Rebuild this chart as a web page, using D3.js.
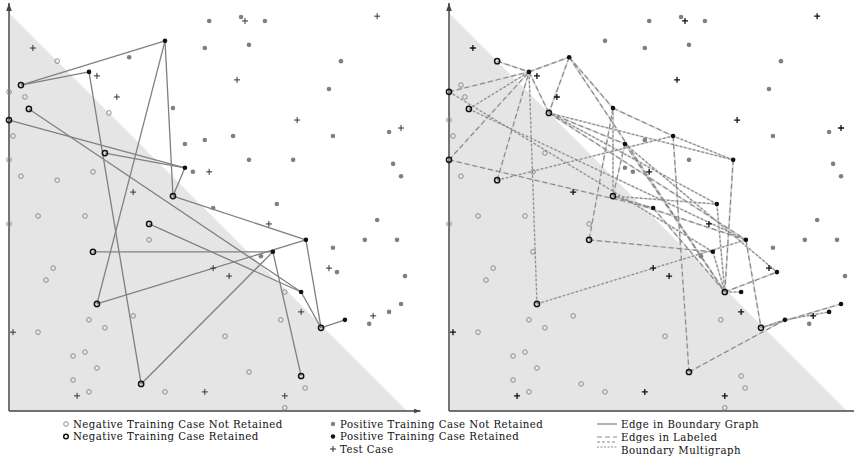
<!DOCTYPE html>
<html>
<head>
<meta charset="utf-8">
<script src="https://cdn.jsdelivr.net/npm/d3@7"></script>
<style>
  body { margin: 0; background: #fff; }
  svg { display: block; }
  .legend text { font-family: "DejaVu Serif", serif; font-size: 10.2px; letter-spacing: 0.45px; fill: #111; }
</style>
</head>
<body>
<div id="container"></div>
<script>
/* CONSTANTS AND GLOBALS */
const width = 854, height = 464;

/* DATA (units 0-100 on both axes, class boundary is x + y = 100) */
const negatives = [
  ["n1", 12.1, 87.9], ["n2", 3.0, 81.9], ["n3", 0, 80.2], ["n4", 4.0, 78.9],
  ["n5", 5.0, 75.9], ["n6", 25.1, 74.9], ["n7", 0, 73.1], ["n8", 1.0, 69.1],
  ["n9", 24.1, 64.8], ["n10", 0, 63.1], ["n11", 3.0, 59.0], ["n12", 12.1, 58.0],
  ["n13", 21.1, 60.1], ["n14", 41.2, 54.0], ["n15", 7.3, 49.0], ["n16", 19.1, 49.0],
  ["n17", 0, 47.0], ["n18", 35.2, 47.0], ["n19", 35.2, 43.0], ["n20", 21.1, 40.0],
  ["n21", 11.1, 35.9], ["n22", 9.3, 32.9], ["n23", 22.1, 26.9], ["n24", 31.2, 23.9],
  ["n25", 20.1, 22.9], ["n26", 24.1, 20.9], ["n27", 7.3, 19.8], ["n28", 16.1, 13.8],
  ["n29", 19.1, 14.8], ["n30", 22.1, 10.8], ["n31", 16.1, 7.8], ["n32", 33.2, 6.8],
  ["n33", 20.1, 4.8], ["n34", 39.2, 4.8], ["n35", 69.3, 29.9], ["n36", 68.3, 22.9],
  ["n37", 78.4, 20.9], ["n38", 54.3, 18.8], ["n39", 60.3, 9.8], ["n40", 73.4, 8.8],
  ["n41", 74.4, 5.8], ["n42", 69.3, 0.8]
];

const positives = [
  ["p1", 30.2, 88.9], ["p2", 39.2, 93.0], ["p3", 50.3, 98.0], ["p4", 58.3, 99.0],
  ["p5", 64.3, 98.0], ["p6", 49.2, 91.2], ["p7", 60.3, 92.0], ["p8", 83.4, 87.9],
  ["p9", 80.4, 80.9], ["p10", 20.1, 85.2], ["p11", 41.2, 76.1], ["p12", 44.2, 67.1],
  ["p13", 49.2, 68.1], ["p14", 56.3, 69.1], ["p15", 81.4, 69.1], ["p16", 95.5, 70.1],
  ["p17", 60.3, 63.1], ["p18", 71.4, 63.1], ["p19", 96.5, 62.1], ["p20", 98.5, 59.0],
  ["p21", 44.2, 61.1], ["p22", 46.2, 60.1], ["p23", 51.3, 51.0], ["p24", 67.3, 52.0],
  ["p25", 92.5, 48.0], ["p26", 74.6, 43.0], ["p27", 89.4, 43.0], ["p28", 97.5, 43.0],
  ["p29", 81.4, 41.0], ["p30", 66.3, 40.0], ["p31", 63.3, 38.9], ["p32", 82.4, 34.9],
  ["p33", 99.5, 33.9], ["p34", 73.4, 29.9], ["p35", 98.5, 26.9], ["p36", 95.5, 24.9],
  ["p37", 84.4, 22.9], ["p38", 90.5, 21.9]
];

const tests = [
  [6.0, 91.2], [22.1, 84.2], [27.1, 78.9], [59.3, 98.0], [92.5, 99.2],
  [57.3, 83.2], [72.4, 73.1], [98.5, 71.1], [50.3, 60.1], [31.2, 55.0],
  [65.3, 47.0], [51.3, 35.9], [55.3, 33.9], [80.4, 35.9], [73.4, 24.9],
  [91.5, 23.9], [1.0, 19.8], [17.1, 3.8], [49.2, 4.8], [69.3, 3.8]
];

// left panel: boundary graph
const retainedLeft = ["n2", "n5", "n7", "n9", "n14", "n18", "n20", "n23", "n32", "n37", "n40",
  "p2", "p10", "p21", "p26", "p30", "p34", "p37"];
const edgesLeft = [
  ["n2", "p2"], ["n2", "p10"], ["p2", "n14"], ["p2", "n23"], ["p10", "n32"],
  ["n7", "p21"], ["n9", "p21"], ["p21", "n14"], ["n14", "p26"], ["n5", "p34"],
  ["n18", "p34"], ["n20", "p30"], ["n23", "p26"], ["n32", "p30"], ["p30", "n40"],
  ["p26", "n37"], ["p34", "n37"], ["n37", "p37"]
];

// right panel: labeled boundary multigraph (L = long dash, S = short dash)
const retainedRight = ["n1", "n3", "n5", "n6", "n10", "n12", "n14", "n19", "n23", "n35", "n37", "n39",
  "p1", "p10", "p11", "p12", "p14", "p18", "p23", "p24", "p26", "p30", "p32", "p34", "p35", "p36", "p37"];
const edgesRight = [
  ["n1", "p10", "L"], ["p10", "p1", "L"], ["n3", "p10", "L"], ["n5", "p10", "S"],
  ["n10", "p10", "L"], ["n12", "p10", "L"], ["p10", "n23", "S"], ["p10", "n6", "L"],
  ["p1", "n6", "L"], ["p1", "p11", "L"], ["p1", "n35", "L"], ["n6", "p12", "L"],
  ["n6", "p24", "S"], ["n6", "p26", "L"], ["n6", "p18", "S"], ["p11", "p14", "L"],
  ["p11", "n14", "S"], ["p11", "n19", "L"], ["p12", "n14", "L"], ["p12", "n35", "L"],
  ["p12", "p32", "S"], ["n14", "p24", "S"], ["n14", "p26", "L"], ["n14", "p23", "S"],
  ["p23", "n35", "L"], ["p24", "n35", "S"], ["p18", "n35", "L"], ["p18", "p14", "S"],
  ["p14", "n39", "L"], ["p26", "n37", "L"], ["n19", "p30", "L"], ["p30", "n35", "S"],
  ["n35", "p34", "S"], ["n35", "p32", "L"], ["n37", "p37", "S"], ["n39", "p37", "L"],
  ["n37", "p35", "L"], ["p37", "p36", "S"], ["n23", "p26", "S"], ["n12", "p14", "S"],
  ["n10", "p23", "L"], ["n3", "p30", "S"], ["n5", "p26", "S"]
];

/* HTML ELEMENTS */
const svg = d3.select("#container")
  .append("svg")
  .attr("width", width)
  .attr("height", height);

svg.append("defs").append("marker")
  .attr("id", "arrow")
  .attr("viewBox", "0 0 10 10")
  .attr("refX", 10).attr("refY", 5)
  .attr("markerWidth", 5).attr("markerHeight", 5)
  .attr("orient", "auto")
  .append("path")
  .attr("d", "M0,1.5 L10,5 L0,8.5 Z")
  .attr("fill", "#444");

const pointIndex = new Map();
negatives.forEach(d => pointIndex.set(d[0], { x: d[1], y: d[2], cls: "neg" }));
positives.forEach(d => pointIndex.set(d[0], { x: d[1], y: d[2], cls: "pos" }));

function drawPanel(x0, retained, edges, dashed) {
  /* SCALES */
  const xScale = d3.scaleLinear().domain([0, 100]).range([x0, x0 + 398]);
  const yScale = d3.scaleLinear().domain([0, 100]).range([411, 13]);
  const g = svg.append("g");
  const keep = new Set(retained);

  // negative region
  g.append("path")
    .attr("d", d3.line()([[0, 0], [0, 100], [100, 0]].map(p => [xScale(p[0]), yScale(p[1])])) + "Z")
    .attr("fill", "#e5e5e5");

  // axes
  g.append("line")
    .attr("x1", xScale(0)).attr("y1", yScale(0))
    .attr("x2", xScale(103.4)).attr("y2", yScale(0))
    .attr("stroke", "#444").attr("stroke-width", 1.3)
    .attr("marker-end", "url(#arrow)");
  g.append("line")
    .attr("x1", xScale(0)).attr("y1", yScale(0))
    .attr("x2", xScale(0)).attr("y2", yScale(102.5))
    .attr("stroke", "#555").attr("stroke-width", 1.6)
    .attr("marker-end", "url(#arrow)");

  // edges
  const seg = e => {
    const a = pointIndex.get(e[0]), b = pointIndex.get(e[1]);
    return { x1: xScale(a.x), y1: yScale(a.y), x2: xScale(b.x), y2: yScale(b.y), s: e[2] };
  };
  const segs = edges.map(seg);
  if (!dashed) {
    g.selectAll(".edge").data(segs).join("line")
      .attr("x1", d => d.x1).attr("y1", d => d.y1)
      .attr("x2", d => d.x2).attr("y2", d => d.y2)
      .attr("stroke", "#808080").attr("stroke-width", 1.3);
  } else {
    g.selectAll(".edge-under").data(segs).join("line")
      .attr("x1", d => d.x1).attr("y1", d => d.y1)
      .attr("x2", d => d.x2).attr("y2", d => d.y2)
      .attr("stroke", "#dadada").attr("stroke-width", 1.8);
    g.selectAll(".edge-dash").data(segs).join("line")
      .attr("x1", d => d.x1).attr("y1", d => d.y1)
      .attr("x2", d => d.x2).attr("y2", d => d.y2)
      .attr("stroke", "#8a8a8a").attr("stroke-width", 1.2)
      .attr("stroke-dasharray", d => d.s === "L" ? "5,3" : "2.5,2");
  }

  // tests
  g.selectAll(".test").data(tests).join("path")
    .attr("d", d => {
      const cx = xScale(d[0]), cy = yScale(d[1]);
      return `M${cx - 3},${cy}H${cx + 3}M${cx},${cy - 3}V${cy + 3}`;
    })
    .attr("stroke", dashed ? "#111" : "#333")
    .attr("stroke-width", dashed ? 1.3 : 1);

  // negatives
  g.selectAll(".neg").data(negatives).join("circle")
    .attr("cx", d => xScale(d[1])).attr("cy", d => yScale(d[2]))
    .attr("r", d => keep.has(d[0]) ? 2.6 : 2.3)
    .attr("fill", "none")
    .attr("stroke", d => keep.has(d[0]) ? "#111" : "#8c8c8c")
    .attr("stroke-width", d => keep.has(d[0]) ? 1.5 : 1);

  // positives
  g.selectAll(".pos").data(positives).join("circle")
    .attr("cx", d => xScale(d[1])).attr("cy", d => yScale(d[2]))
    .attr("r", 2.3)
    .attr("fill", d => keep.has(d[0]) ? "#111" : "#808080");
}

drawPanel(9, retainedLeft, edgesLeft, false);
drawPanel(449, retainedRight, edgesRight, true);

/* LEGEND */
const legend = svg.append("g").attr("class", "legend");
const labels1 = ["Negative Training Case Not Retained", "Negative Training Case Retained"];
const labels2 = ["Positive Training Case Not Retained", "Positive Training Case Retained", "Test Case"];
const labels3 = ["Edge in Boundary Graph", "Edges in Labeled", "Boundary Multigraph"];
const rows = [424, 436.5, 449];

legend.selectAll(".l1").data(labels1).join("text")
  .attr("x", 73).attr("y", (d, i) => rows[i] + 3.8).text(d => d);
legend.selectAll(".m1").data(labels1).join("circle")
  .attr("cx", 66).attr("cy", (d, i) => rows[i]).attr("r", 2.3)
  .attr("fill", "none")
  .attr("stroke", (d, i) => i ? "#111" : "#8c8c8c")
  .attr("stroke-width", (d, i) => i ? 1.5 : 1);

legend.selectAll(".l2").data(labels2).join("text")
  .attr("x", 340).attr("y", (d, i) => rows[i] + 3.8).text(d => d);
legend.selectAll(".m2").data(labels2.slice(0, 2)).join("circle")
  .attr("cx", 333).attr("cy", (d, i) => rows[i]).attr("r", 2.2)
  .attr("fill", (d, i) => i ? "#111" : "#808080");
legend.append("path")
  .attr("d", `M330,${rows[2]}H336M333,${rows[2] - 3}V${rows[2] + 3}`)
  .attr("stroke", "#333");

const rows3 = [424, 437.5, 450.5];
legend.selectAll(".l3").data(labels3).join("text")
  .attr("x", 621).attr("y", (d, i) => rows3[i] + 3.8).text(d => d);
legend.append("line").attr("x1", 597).attr("x2", 617).attr("y1", 424).attr("y2", 424)
  .attr("stroke", "#808080").attr("stroke-width", 1.2);
legend.append("line").attr("x1", 597).attr("x2", 617).attr("y1", 437).attr("y2", 437)
  .attr("stroke", "#8a8a8a").attr("stroke-width", 1).attr("stroke-dasharray", "5,3");
legend.append("line").attr("x1", 597).attr("x2", 617).attr("y1", 442).attr("y2", 442)
  .attr("stroke", "#8a8a8a").attr("stroke-width", 1).attr("stroke-dasharray", "3,2");
legend.append("line").attr("x1", 597).attr("x2", 617).attr("y1", 447).attr("y2", 447)
  .attr("stroke", "#8a8a8a").attr("stroke-width", 1).attr("stroke-dasharray", "2,1.5");
</script>
</body>
</html>
